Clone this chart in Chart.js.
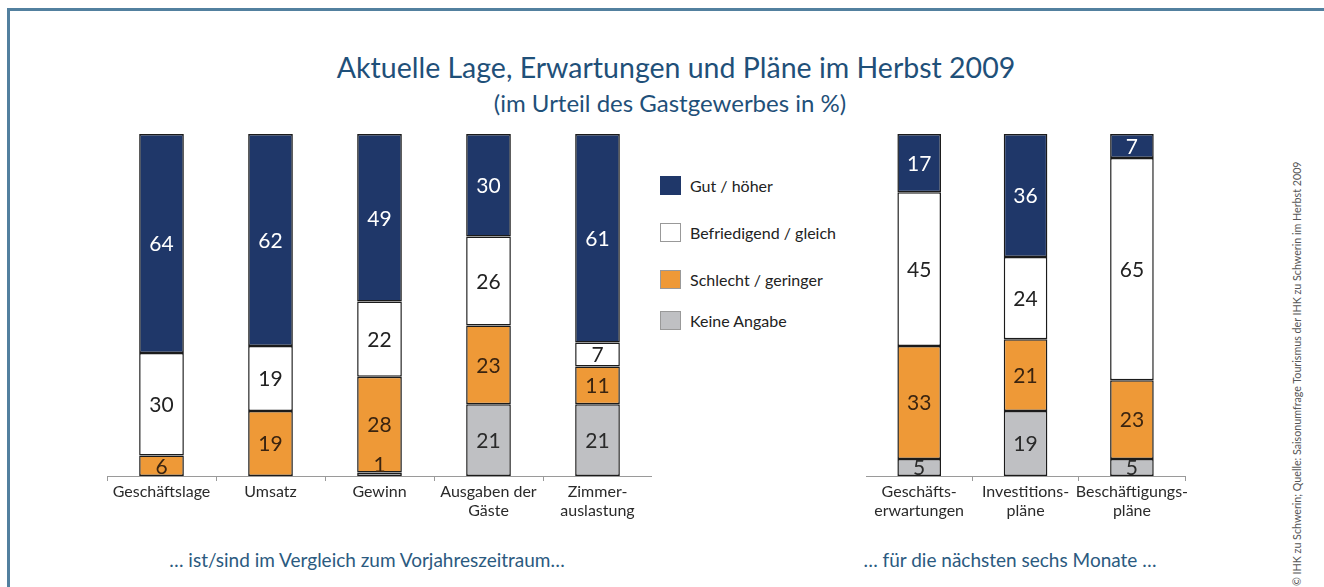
<!DOCTYPE html>
<html>
<head>
<meta charset="utf-8">
<script src="https://cdn.jsdelivr.net/npm/chart.js@4.4.1/dist/chart.umd.min.js"></script>
<style>
  html, body { margin: 0; padding: 0; background: #fff; }
  body { width: 1324px; height: 587px; position: relative; overflow: hidden; font-family: Lato, "Open Sans", sans-serif; }
  .frame-top { position: absolute; left: 7px; top: 8px; width: 1317px; height: 3px; background: #52809f; }
  .frame-left { position: absolute; left: 7px; top: 8px; width: 3px; height: 579px; background: #52809f; }
  .title { position: absolute; left: 14px; width: 1324px; text-align: center; color: #1f5079; }
  .t1 { top: 50px; font-size: 28.5px; }
  .t2 { top: 88px; font-size: 24px; left: 8px; }
  .caption { position: absolute; top: 548px; font-size: 19px; color: #2b5a80; text-align: center; }
  .legend { position: absolute; left: 660px; font-size: 16px; color: #222; }
  .legend .sw { position: absolute; left: 0; width: 21px; height: 19px; box-sizing: border-box; }
  .legend .tx { position: absolute; left: 30px; top: 0; white-space: nowrap; line-height: 19px; }
  .vert { position: absolute; left: 1291px; top: 586px; transform: rotate(-90deg); transform-origin: 0 0; font-size: 10.7px; color: #555; white-space: nowrap; line-height: 12px; }
  canvas { position: absolute; }
</style>
</head>
<body>
<div class="frame-top"></div>
<div class="frame-left"></div>
<div class="title t1">Aktuelle Lage, Erwartungen und Pläne im Herbst 2009</div>
<div class="title t2">(im Urteil des Gastgewerbes in %)</div>

<div id="legendBox"></div>

<div class="caption" style="left:107px;width:520px;">… ist/sind im Vergleich zum Vorjahreszeitraum…</div>
<div class="caption" style="left:855px;width:310px;">… für die nächsten sechs Monate …</div>
<div class="vert">© IHK zu Schwerin; Quelle: Saisonumfrage Tourismus der IHK zu Schwerin im Herbst 2009</div>

<div style="position:absolute;left:107px;top:124px;width:545px;height:402px;"><canvas id="c1"></canvas></div>
<div style="position:absolute;left:866px;top:124px;width:324px;height:402px;"><canvas id="c2"></canvas></div>

<script>
// ---- data ----
const seriesNames = ["Keine Angabe", "Schlecht / geringer", "Befriedigend / gleich", "Gut / höher"];

const leftCategories = [["Geschäftslage"], ["Umsatz"], ["Gewinn"], ["Ausgaben der", "Gäste"], ["Zimmer-", "auslastung"]];
const leftKeine        = [null, null, 1, 21, 21];
const leftSchlecht     = [6, 19, 28, 23, 11];
const leftBefriedigend = [30, 19, 22, 26, 7];
const leftGut          = [64, 62, 49, 30, 61];

const rightCategories = [["Geschäfts-", "erwartungen"], ["Investitions-", "pläne"], ["Beschäftigungs-", "pläne"]];
const rightKeine        = [5, 19, 5];
const rightSchlecht     = [33, 21, 23];
const rightBefriedigend = [45, 24, 65];
const rightGut          = [17, 36, 7];

// ---- styles ----
const fills = ["#bfc0c3", "#ee9937", "#ffffff", "#1f3769"];
const labelColors = ["#2a2a2a", "#3a2410", "#222222", "#ffffff"];
const legendOrder = [3, 2, 1, 0];
const legendTops = [176, 223, 270, 311];

// HTML legend
const lb = document.getElementById('legendBox');
legendOrder.forEach((si, i) => {
  const d = document.createElement('div');
  d.className = 'legend';
  d.style.top = legendTops[i] + 'px';
  d.innerHTML = '<div class="sw" style="background:' + fills[si] + ';border:1px solid ' + (si === 3 ? '#1f3769' : '#999') + '"></div><div class="tx">' + seriesNames[si] + '</div>';
  lb.appendChild(d);
});

const valueLabels = {
  id: 'valueLabels',
  afterDatasetsDraw(chart) {
    const ctx = chart.ctx;
    ctx.save();
    ctx.font = '21px Lato, "Open Sans", sans-serif';
    ctx.textAlign = 'center';
    chart.data.datasets.forEach((ds, di) => {
      const meta = chart.getDatasetMeta(di);
      meta.data.forEach((bar, i) => {
        const v = ds.data[i];
        if (v === null || v === undefined) return;
        const h = Math.abs(bar.base - bar.y);
        ctx.fillStyle = labelColors[di];
        let y;
        if (h < 14) {
          ctx.textBaseline = 'bottom';
          y = bar.y + 3;
          ctx.fillStyle = labelColors[1];
        } else {
          ctx.textBaseline = 'middle';
          y = (bar.y + bar.base) / 2 + 1;
        }
        ctx.fillText(String(v), bar.x, y);
      });
    });
    ctx.restore();
  }
};

function makeChart(id, cats, k, s, b, g) {
  const sets = [k, s, b, g];
  return new Chart(document.getElementById(id), {
    type: 'bar',
    data: {
      labels: cats,
      datasets: sets.map((arr, i) => ({
        label: seriesNames[i],
        data: arr,
        backgroundColor: fills[i],
        borderColor: '#1b1b1b',
        borderWidth: 1.5,
        borderSkipped: false,
        barPercentage: 0.41,
        categoryPercentage: 1.0
      }))
    },
    options: {
      responsive: true,
      maintainAspectRatio: false,
      animation: false,
      layout: { padding: { top: 10, left: 0, right: 0, bottom: 0 } },
      plugins: { legend: { display: false }, tooltip: { enabled: false } },
      scales: {
        x: {
          stacked: true,
          grid: { display: true, drawOnChartArea: false, drawTicks: true, tickLength: 5, color: '#9a9a9a', offset: true },
          border: { display: true, color: '#9a9a9a', width: 1 },
          ticks: { color: '#2a2a2a', font: { family: 'Lato, "Open Sans", sans-serif', size: 16, lineHeight: 1.15 }, padding: 2, maxRotation: 0, autoSkip: false },
          afterFit(scale) { scale.height = 50; }
        },
        y: {
          stacked: true, display: false, min: 0, max: 100
        }
      }
    },
    plugins: [valueLabels]
  });
}

makeChart('c1', leftCategories, leftKeine, leftSchlecht, leftBefriedigend, leftGut);
makeChart('c2', rightCategories, rightKeine, rightSchlecht, rightBefriedigend, rightGut);
</script>
</body>
</html>
